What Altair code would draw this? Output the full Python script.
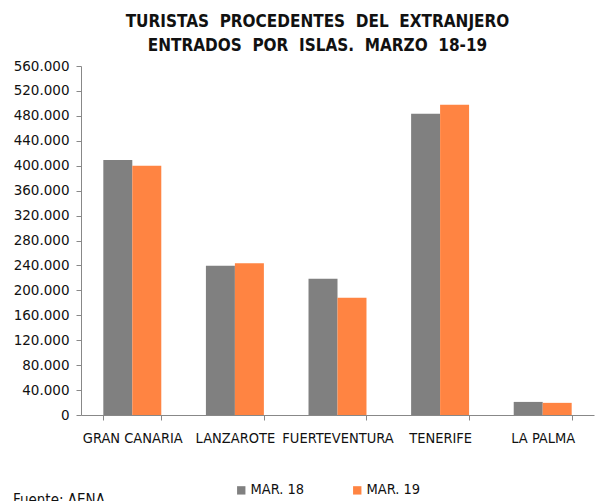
import altair as alt
import pandas as pd

islas = ["GRAN CANARIA", "LANZAROTE", "FUERTEVENTURA", "TENERIFE", "LA PALMA"]
series = ["MAR. 18", "MAR. 19"]
mar18 = [409000, 239500, 218500, 483500, 21000]
mar19 = [400000, 243500, 188000, 498000, 19500]
colors = ["#808080", "#FF8442"]
y_ticks = list(range(0, 560001, 40000))

rows = []
for i, isla in enumerate(islas):
    rows.append({"isla": isla, "serie": series[0], "valor": mar18[i]})
    rows.append({"isla": isla, "serie": series[1], "valor": mar19[i]})
df = pd.DataFrame(rows)

FONT = "DejaVu Sans"
FONTC = "DejaVu Sans Condensed"
SP = "\u00a0\u00a0"

bars = alt.Chart(df).mark_bar().encode(
    x=alt.X("isla:N", sort=islas, title=None,
            scale=alt.Scale(paddingInner=0.435, paddingOuter=0.2175),
            axis=alt.Axis(labelAngle=0, tickBand="extent", labelFont=FONTC,
                          labelFontSize=14.5, labelColor="#111", labelPadding=11,
                          domainColor="#888", tickColor="#888", tickSize=5)),
    xOffset=alt.XOffset("serie:N", sort=series),
    y=alt.Y("valor:Q", title=None,
            scale=alt.Scale(domain=[0, 560000], nice=False),
            axis=alt.Axis(values=y_ticks, grid=False, labelFont=FONT,
                          labelFontSize=13.5, labelColor="#111",
                          labelExpr="replace(format(datum.value, ','), ',', '.')",
                          domainColor="#888", tickColor="#888", tickSize=5,
                          labelPadding=7, minExtent=67, maxExtent=67)),
    color=alt.Color("serie:N", sort=series,
                    scale=alt.Scale(domain=series, range=colors),
                    legend=alt.Legend(title=None, orient="none", direction="horizontal",
                                      legendX=153, legendY=417, symbolType="square",
                                      symbolSize=70, labelFont=FONTC, labelFontSize=14.5,
                                      labelColor="#111", columnPadding=45,
                                      labelOffset=2)),
)

source = alt.Chart(pd.DataFrame({"t": ["Fuente: AENA"]})).mark_text(
    align="left", baseline="top", font=FONTC, fontSize=15, color="#111"
).encode(x=alt.value(-68), y=alt.value(427), text="t:N")

chart = alt.layer(bars, source).properties(
    width=513, height=349,
    title=alt.TitleParams(
        text=[SP.join(["TURISTAS", "PROCEDENTES", "DEL", "EXTRANJERO"]),
              SP.join(["ENTRADOS", "POR", "ISLAS.", "MARZO", "18-19"])],
        font=FONTC, fontSize=17, fontWeight="bold", color="#111",
        anchor="middle", dx=-20, lineHeight=24, offset=4),
).configure_view(stroke=None)

chart.save("out.html", embed_options={"renderer": "svg", "actions": False})
